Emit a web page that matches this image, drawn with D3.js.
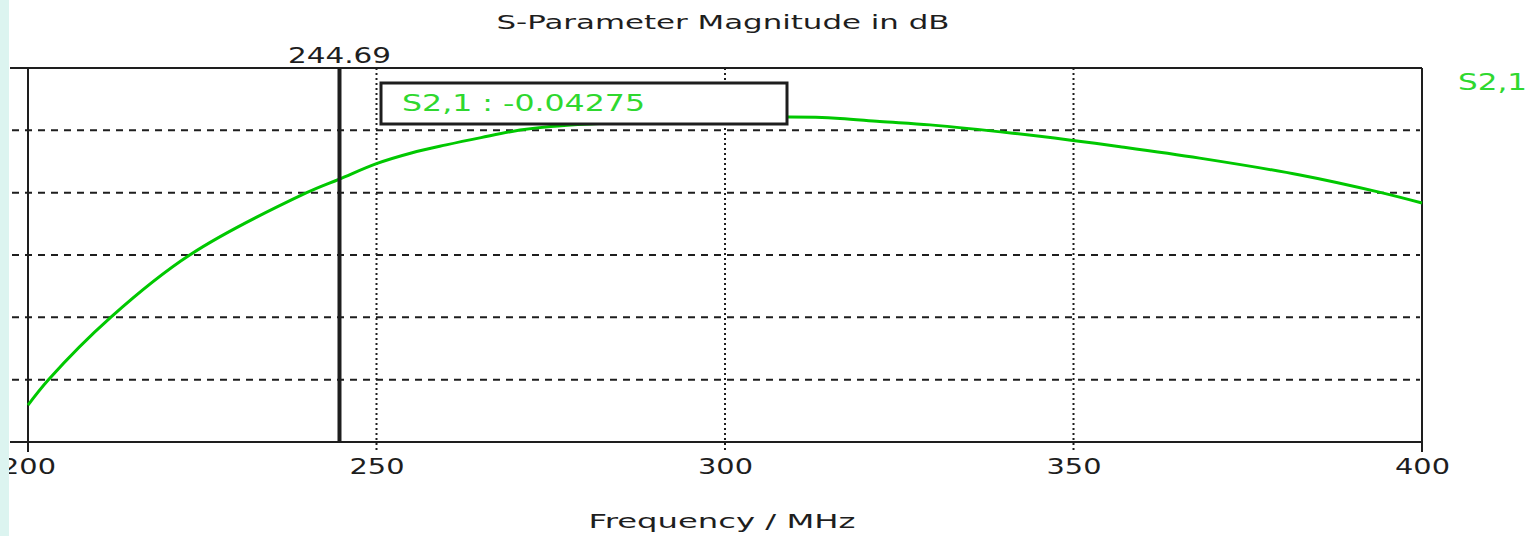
<!DOCTYPE html>
<html>
<head>
<meta charset="utf-8">
<script src="https://cdn.jsdelivr.net/npm/d3@7"></script>
<style>
  html, body { margin: 0; padding: 0; background: #ffffff; }
  svg { display: block; }
  text { font-family: "DejaVu Sans", sans-serif; }
</style>
</head>
<body>
<svg id="chart" width="1537" height="536"></svg>
<script>
// ---- data ----
const freqMHz = [200, 202.9, 211.9, 223.2, 239.9, 244.69, 250, 255, 260, 265, 270.6, 275, 290, 300, 309.3, 316.5, 322.2, 329.4, 341.3, 350.2, 356.7, 368.1, 382.5, 394.0, 400];
const s21dB   = [-0.1298, -0.1201, -0.0959, -0.0720, -0.0481, -0.04275, -0.0368, -0.0327, -0.0296, -0.0268, -0.0239, -0.0225, -0.0203, -0.0194, -0.0189, -0.0194, -0.0206, -0.0219, -0.0251, -0.0280, -0.0303, -0.0347, -0.0412, -0.0479, -0.0520];
const xTickValues = [200, 250, 300, 350, 400];
const yGridValues = [-0.024, -0.048, -0.072, -0.096, -0.120];
const markerFreq = 244.69;
const markerLabel = "244.69";
const markerReadout = "S2,1 : -0.04275";
const seriesName = "S2,1";
const titleText = "S-Parameter Magnitude in dB";
const xAxisTitle = "Frequency / MHz";

// ---- layout ----
const W = 1537, H = 536;
const frameLeft = 10, frameTop = 68, frameBottom = 442;
const svg = d3.select("#chart");

const x = d3.scaleLinear().domain([200, 400]).range([28, 1422]);
const y = d3.scaleLinear().domain([-0.144, 0]).range([frameBottom, frameTop]);
const frameRight = x(400);

const ink = "#1e1e1e";
const green = "#00c800";
const greenText = "#2fd82f";

// horizontal dashed grid
svg.append("g").selectAll("line").data(yGridValues).join("line")
  .attr("x1", frameLeft + 2).attr("x2", frameRight - 2)
  .attr("y1", d => y(d)).attr("y2", d => y(d))
  .attr("stroke", ink).attr("stroke-width", 2)
  .attr("stroke-dasharray", "7,6");

// vertical dotted grid (interior ticks)
const innerTicks = xTickValues.filter(d => d !== 200 && d !== 400);
svg.append("g").selectAll("line").data(innerTicks).join("line")
  .attr("x1", d => x(d)).attr("x2", d => x(d))
  .attr("y1", frameTop).attr("y2", frameBottom + 10)
  .attr("stroke", ink).attr("stroke-width", 2)
  .attr("stroke-dasharray", "2,3");

// frame
svg.append("line").attr("x1", frameLeft).attr("x2", frameRight)
  .attr("y1", frameTop).attr("y2", frameTop).attr("stroke", ink).attr("stroke-width", 2);
svg.append("line").attr("x1", frameLeft).attr("x2", frameRight)
  .attr("y1", frameBottom).attr("y2", frameBottom).attr("stroke", ink).attr("stroke-width", 2);
svg.append("line").attr("x1", frameRight).attr("x2", frameRight)
  .attr("y1", frameTop).attr("y2", frameBottom + 10).attr("stroke", ink).attr("stroke-width", 2);
svg.append("line").attr("x1", x(200)).attr("x2", x(200))
  .attr("y1", frameTop).attr("y2", frameBottom + 10).attr("stroke", ink).attr("stroke-width", 2);

// x axis labels
const xAxis = d3.axisBottom(x).tickValues(xTickValues).tickSize(0).tickPadding(0).tickFormat(d3.format("d"));
const gx = svg.append("g").attr("transform", `translate(0,${frameBottom})`).call(xAxis);
gx.select(".domain").remove();
gx.selectAll(".tick text")
  .attr("y", 32).attr("dy", null)
  .attr("font-size", 22).attr("fill", ink)
  .attr("font-family", "DejaVu Sans, sans-serif")
  .attr("textLength", 55).attr("lengthAdjust", "spacingAndGlyphs");

// curve
const pts = freqMHz.map((f, i) => [f, s21dB[i]]);
svg.append("path").datum(pts)
  .attr("fill", "none").attr("stroke", green).attr("stroke-width", 3)
  .attr("d", d3.line().x(d => x(d[0])).y(d => y(d[1])).curve(d3.curveCatmullRom.alpha(0.5)));

// marker line
svg.append("line").attr("x1", x(markerFreq)).attr("x2", x(markerFreq))
  .attr("y1", frameTop).attr("y2", frameBottom)
  .attr("stroke", ink).attr("stroke-width", 4);
svg.append("text").attr("x", x(markerFreq)).attr("y", 63)
  .attr("text-anchor", "middle").attr("font-size", 22).attr("fill", ink)
  .attr("textLength", 103).attr("lengthAdjust", "spacingAndGlyphs")
  .text(markerLabel);

// readout box
svg.append("rect").attr("x", 381).attr("y", 83).attr("width", 406).attr("height", 41)
  .attr("fill", "#ffffff").attr("stroke", ink).attr("stroke-width", 3);
svg.append("text").attr("x", 402).attr("y", 111)
  .attr("font-size", 23).attr("fill", greenText)
  .attr("textLength", 243).attr("lengthAdjust", "spacingAndGlyphs")
  .text(markerReadout);

// legend
svg.append("text").attr("x", 1458).attr("y", 90)
  .attr("font-size", 23).attr("fill", greenText)
  .attr("textLength", 69).attr("lengthAdjust", "spacingAndGlyphs")
  .text(seriesName);

// title
svg.append("text").attr("x", 723).attr("y", 29).attr("text-anchor", "middle")
  .attr("font-size", 19).attr("fill", ink)
  .attr("textLength", 453).attr("lengthAdjust", "spacingAndGlyphs")
  .text(titleText);

// x axis title
svg.append("text").attr("x", 722).attr("y", 528).attr("text-anchor", "middle")
  .attr("font-size", 20).attr("fill", ink)
  .attr("textLength", 267).attr("lengthAdjust", "spacingAndGlyphs")
  .text(xAxisTitle);

// left page strip
svg.append("rect").attr("x", 0).attr("y", 0).attr("width", 9).attr("height", H)
  .attr("fill", "#dcf4f0");
</script>
</body>
</html>
